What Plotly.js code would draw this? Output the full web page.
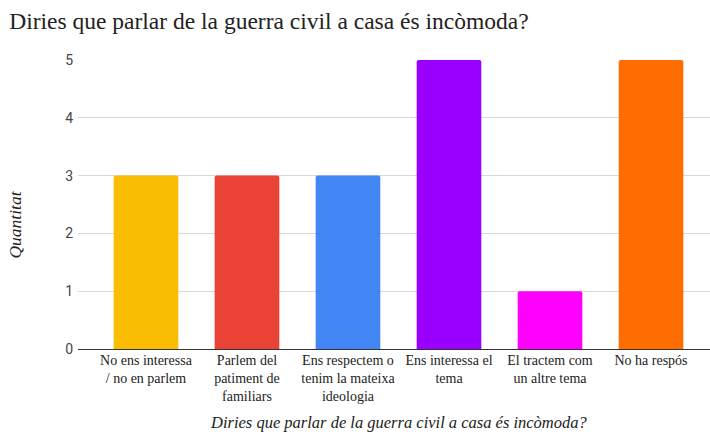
<!DOCTYPE html>
<html>
<head>
<meta charset="utf-8">
<script src="https://cdn.plot.ly/plotly-3.0.1.min.js"></script>
<style>html,body{margin:0;padding:0;background:#fff;}#chart{width:710px;height:432px;}</style>
</head>
<body>
<div id="chart"></div>
<script>
var categories = [
  "No ens interessa<br>/ no en parlem",
  "Parlem del<br>patiment de<br>familiars",
  "Ens respectem o<br>tenim la mateixa<br>ideologia",
  "Ens interessa el<br>tema",
  "El tractem com<br>un altre tema",
  "No ha respós"
];
var values = [3, 3, 3, 5, 1, 5];
var colors = ["#fbbc04", "#ea4335", "#4285f4", "#9900ff", "#ff00ff", "#ff6d01"];
var yTicks = [0, 1, 2, 3, 4, 5];
var titleText = "Diries que parlar de la guerra civil a casa és incòmoda?";
var xTitleText = "Diries que parlar de la guerra civil a casa és incòmoda?";
var yTitleText = "Quantitat";

var trace = {
  type: "bar",
  x: categories,
  y: values,
  marker: {color: colors, cornerradius: 2},
  hoverinfo: "none"
};

var layout = {
  width: 710,
  height: 432,
  margin: {l: 78, r: 0, t: 60, b: 83},
  paper_bgcolor: "#ffffff",
  plot_bgcolor: "#ffffff",
  bargap: 0.36,
  showlegend: false,
  title: {
    text: titleText,
    x: 0.013, xanchor: "left",
    y: 0.97, yanchor: "top",
    font: {family: "Liberation Serif, serif", size: 23.5, color: "#222222"}
  },
  xaxis: {
    range: [-0.673, 5.584],
    showgrid: false,
    showline: true,
    linecolor: "#333333",
    linewidth: 1,
    ticks: "",
    ticklabelstandoff: -2,
    tickfont: {family: "Liberation Serif, serif", size: 14, color: "#222222"},
    fixedrange: true
  },
  yaxis: {
    range: [0, 5],
    tickvals: yTicks,
    showgrid: true,
    gridcolor: "#d9d9d9",
    gridwidth: 1,
    zeroline: false,
    showline: false,
    ticks: "",
    ticklabelstandoff: 4,
    tickfont: {family: "Roboto, Arial, sans-serif", size: 14, color: "#444444"},
    fixedrange: true
  },
  annotations: [{
    text: yTitleText,
    xref: "paper", yref: "paper",
    x: -0.1, xanchor: "center",
    y: 0.43, yanchor: "middle",
    textangle: -90,
    showarrow: false,
    font: {family: "Liberation Serif, serif", size: 17.5, color: "#222222", style: "italic"}
  }, {
    text: xTitleText,
    xref: "paper", yref: "paper",
    x: 0.508, xanchor: "center",
    y: -0.255, yanchor: "middle",
    showarrow: false,
    font: {family: "Liberation Serif, serif", size: 16.5, color: "#222222", style: "italic"}
  }]
};

Plotly.newPlot("chart", [trace], layout, {displayModeBar: false, staticPlot: true});
</script>
</body>
</html>
